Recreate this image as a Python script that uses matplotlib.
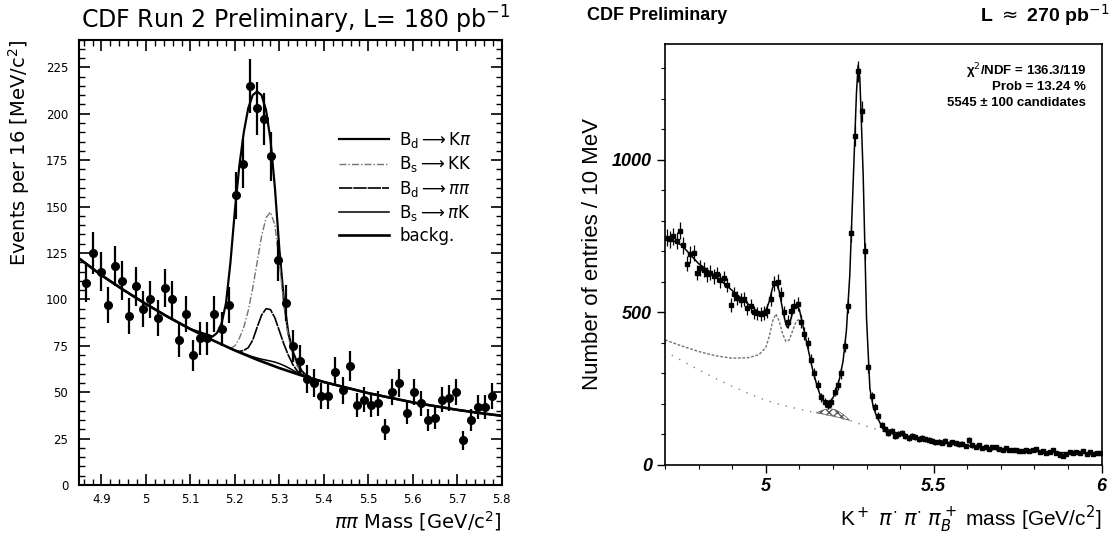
import numpy as np
import matplotlib
matplotlib.use("Agg")
import matplotlib.pyplot as plt
from matplotlib.ticker import MultipleLocator

# ---- left panel: pi pi mass, 16 MeV bins ----
pp_x0 = 4.866
pp_bin = 0.016
pp_counts = [109, 125, 115, 97, 118, 110, 91, 107, 95, 100, 90, 106, 100, 78, 92, 70,
             79, 79, 92, 84, 97,
             156, 173, 215, 203, 197, 177, 121,
             98, 75, 67, 57, 55, 48, 48, 61, 51, 64, 43, 46, 43, 44, 30, 50, 55, 39,
             50, 44, 35, 36, 46, 47, 50, 24, 35, 42, 42, 48]

# fit curves
tot_x = [4.85, 4.90, 4.95, 5.00, 5.05, 5.10, 5.15, 5.16, 5.17, 5.18, 5.19, 5.20, 5.21,
         5.22, 5.23, 5.24, 5.25, 5.26, 5.27, 5.28, 5.29, 5.30, 5.31, 5.32, 5.33, 5.34,
         5.35, 5.36, 5.37, 5.40, 5.45, 5.50, 5.55, 5.60, 5.65, 5.70, 5.75, 5.80]
tot_y = [122, 113, 105, 97.5, 90.5, 84, 80, 82, 87, 98, 120, 148, 172,
         190, 203, 210, 212, 210, 202, 186, 160, 127, 100, 82, 72, 66,
         61.5, 59, 57.5, 55.5, 52.5, 49.5, 47, 44.5, 42.5, 40.5, 38.8, 37.3]
bg_x = [4.85, 4.90, 4.95, 5.00, 5.05, 5.10, 5.15, 5.20, 5.25, 5.30, 5.35, 5.40,
        5.45, 5.50, 5.55, 5.60, 5.65, 5.70, 5.75, 5.80]
bg_y = [122, 113, 105, 97.5, 90.5, 84, 78, 72.5, 67.5, 63, 59, 55.5,
        52.5, 49.5, 47, 44.5, 42.5, 40.5, 38.8, 37.3]
comp_x = [5.19, 5.20, 5.21, 5.22, 5.23, 5.24, 5.25, 5.26, 5.27, 5.28, 5.29, 5.30,
          5.31, 5.32, 5.33, 5.34, 5.35, 5.36]
kk_y = [73.5, 75, 79, 85, 94, 106, 120, 134, 144, 147, 140, 120, 97, 80, 70, 64, 60.5, 58.5]
pipi_y = [73.5, 72.5, 72, 72.5, 74, 78, 85, 91.5, 95, 94.5, 90, 83, 76, 70, 65, 61.5, 59.5, 58.5]
pik_y = [73.5, 72.6, 71.7, 70.8, 69.9, 69.1, 68.4, 67.8, 67.3, 66.8, 66.2, 65.4,
         64.4, 63.2, 61.9, 60.5, 59.3, 58.3]

# ---- right panel: K pi pi pi mass, 10 MeV bins ----
kp_x0 = 4.705
kp_bin = 0.01
kp_counts = [745, 740, 750, 735, 768, 720, 660, 690, 695, 630,
             645, 640, 625, 630, 618, 625, 605, 612, 590, 525,
             560, 548, 540, 545, 515, 520, 500, 497, 495, 498,
             505, 545, 595, 600, 560, 500, 470, 505, 520, 528,
             470, 430, 400, 345, 300, 262, 222, 205, 198, 205,
             240, 262, 300, 390, 520, 760, 1080, 1290, 1160, 700,
             320, 225, 190, 160, 130, 118, 105, 112, 96, 100,
             104, 95, 88, 96, 92, 86, 88, 84, 82, 80,
             74, 76, 73, 78, 70, 74, 71, 68, 69, 62,
             82, 64, 60, 65, 55, 60, 52, 58, 58, 52,
             50, 55, 49, 50, 48, 47, 47, 49, 45, 50,
             51, 44, 46, 40, 44, 48, 38, 34, 29, 36,
             42, 38, 44, 40, 46, 36, 42, 37, 40, 38]
kfit_x = [4.70, 4.75, 4.80, 4.85, 4.90, 4.95, 4.98, 5.00, 5.01, 5.02, 5.03, 5.04, 5.05,
          5.06, 5.065, 5.07, 5.08, 5.09, 5.10, 5.11, 5.12, 5.13, 5.14, 5.15, 5.16, 5.17,
          5.18, 5.19, 5.20, 5.21, 5.22, 5.23, 5.24, 5.25, 5.26, 5.27, 5.275, 5.28, 5.29,
          5.30, 5.31, 5.32, 5.33, 5.34, 5.35, 5.40, 5.45, 5.50, 5.55, 5.60, 5.65, 5.70,
          5.75, 5.80, 5.85, 5.90, 5.95, 6.00]
kfit_y = [750, 720, 660, 620, 572, 525, 500, 505, 535, 580, 600, 570, 510,
          460, 450, 460, 500, 525, 510, 460, 410, 360, 310, 270, 235, 212,
          202, 205, 220, 245, 285, 340, 440, 620, 920, 1220, 1310, 1270, 950,
          480, 250, 190, 160, 138, 122, 100, 88, 78, 70, 63, 57, 52,
          48, 45, 42, 40, 39, 38]
refl_x = [4.70, 4.75, 4.80, 4.85, 4.90, 4.95, 4.98, 5.00, 5.01, 5.02, 5.03, 5.04,
          5.05, 5.06, 5.07, 5.08, 5.09, 5.10, 5.11]
refl_y = [410, 390, 372, 358, 350, 352, 362, 385, 420, 470, 495, 472,
          430, 405, 410, 440, 470, 478, 455]
comb_x = [4.72, 4.75, 4.80, 4.85, 4.90, 4.95, 5.00, 5.05, 5.10, 5.15, 5.20, 5.25, 5.30, 5.35]
comb_y = [360, 342, 312, 284, 258, 234, 212, 196, 183, 171, 160, 146, 127, 110]
hatch_x = [5.15, 5.17, 5.19, 5.21, 5.23, 5.25]
hatch_lo = [171, 167, 162, 158, 152, 146]
hatch_hi = [171, 180, 185, 180, 166, 146]

fig = plt.figure(figsize=(11.13, 5.36), dpi=100)

# ================= left =================
ax1 = fig.add_axes([0.0712, 0.0951, 0.3796, 0.8312])
pp_c = np.array(pp_counts, dtype=float)
pp_x = pp_x0 + pp_bin * np.arange(len(pp_c))
ax1.errorbar(pp_x, pp_c, yerr=np.sqrt(pp_c), fmt='o', color='black', ms=5.5,
             elinewidth=1.6, capsize=0, zorder=5)
l_tot, = ax1.plot(tot_x, tot_y, color='black', lw=1.6,
                  label=r'B$_\mathrm{d}$$\longrightarrow$K$\pi$')
l_kk, = ax1.plot(comp_x, kk_y, color='0.45', lw=1.0, ls=(0, (5, 1.5, 1, 1.5)),
                 label=r'B$_\mathrm{s}$$\longrightarrow$KK')
l_pp, = ax1.plot(comp_x, pipi_y, color='black', lw=1.2, ls=(0, (8, 0.6)),
                 label=r'B$_\mathrm{d}$$\longrightarrow$$\pi\pi$')
l_pk, = ax1.plot(comp_x, pik_y, color='black', lw=1.1,
                 label=r'B$_\mathrm{s}$$\longrightarrow$$\pi$K')
l_bg, = ax1.plot(bg_x, bg_y, color='black', lw=1.9, label='backg.')

ax1.set_xlim(4.85, 5.8)
ax1.set_ylim(0, 240)
ax1.xaxis.set_minor_locator(MultipleLocator(0.02))
ax1.yaxis.set_major_locator(MultipleLocator(25))
ax1.yaxis.set_minor_locator(MultipleLocator(5))
ax1.set_xticks(np.arange(4.9, 5.81, 0.1))
ax1.set_xticklabels(['4.9', '5', '5.1', '5.2', '5.3', '5.4', '5.5', '5.6', '5.7', '5.8'])
ax1.tick_params(which='both', direction='in', top=True, right=True, labelsize=8.5)
ax1.tick_params(which='major', length=8, width=1.2)
ax1.tick_params(which='minor', length=4, width=1)
ax1.tick_params(axis='x', pad=6)
ax1.tick_params(axis='y', pad=8)
for s in ax1.spines.values():
    s.set_linewidth(1.5)
ax1.set_xlabel(r'$\pi\pi$ Mass [GeV/c$^2$]', fontsize=14, loc='right', labelpad=2)
ax1.set_ylabel(r'Events per 16 [MeV/c$^2$]', fontsize=14, loc='top', labelpad=10)
ax1.legend(handles=[l_tot, l_kk, l_pp, l_pk, l_bg], loc='upper left',
           bbox_to_anchor=(0.58, 0.83), frameon=False, fontsize=12,
           handlelength=3.0, labelspacing=0.25, handletextpad=0.6)
fig.text(0.266, 0.962, r'CDF Run 2 Preliminary, L= 180 pb$^{-1}$', ha='center',
         va='center', fontsize=17)

# ================= right =================
ax2 = fig.add_axes([0.5975, 0.1325, 0.3923, 0.7854])
kp_c = np.array(kp_counts, dtype=float)
kp_x = kp_x0 + kp_bin * np.arange(len(kp_c))
ax2.errorbar(kp_x, kp_c, yerr=np.sqrt(kp_c), fmt='s', color='black', ms=2.5,
             elinewidth=0.9, capsize=0, zorder=5)
ax2.plot(kfit_x, kfit_y, color='black', lw=1.1)
ax2.plot(refl_x, refl_y, color='0.45', lw=1.0, ls=(0, (2, 1.2)))
ax2.plot(comb_x, comb_y, color='0.5', lw=1.0, ls=(0, (1, 5)))
ax2.fill_between(hatch_x, hatch_lo, hatch_hi, facecolor='none', edgecolor='0.35',
                 hatch='xxxx', lw=0.5)
ax2.set_xlim(4.7, 6.0)
ax2.set_ylim(0, 1380)
ax2.set_xticks([5, 5.5, 6])
ax2.set_xticklabels(['5', '5.5', '6'])
ax2.xaxis.set_minor_locator(MultipleLocator(0.1))
ax2.set_yticks([0, 500, 1000])
ax2.yaxis.set_minor_locator(MultipleLocator(100))
ax2.tick_params(which='both', direction='out', top=False, right=False)
ax2.tick_params(which='major', length=6, width=1)
ax2.tick_params(which='minor', length=3, width=0.8)
for lab in ax2.get_xticklabels() + ax2.get_yticklabels():
    lab.set_fontfamily('Liberation Sans')
    lab.set_fontstyle('italic')
    lab.set_fontweight('bold')
    lab.set_fontsize(13)
for s in ax2.spines.values():
    s.set_linewidth(1.2)
ax2.set_xlabel(r'K$^+$ $\pi^{\cdot}$ $\pi^{\cdot}$ $\pi_B^+$ mass [GeV/c$^2$]',
               fontsize=15, loc='right', family='Liberation Sans', labelpad=6)
ax2.set_ylabel('Number of entries / 10 MeV', fontsize=16, family='Liberation Sans',
               labelpad=6)
stats = ['\u03c7$^2$/NDF = 136.3/119', 'Prob = 13.24 %', '5545 \u00b1 100 candidates']
for i, s in enumerate(stats):
    ax2.text(0.965, 0.935 - i * 0.038, s, transform=ax2.transAxes, ha='right',
             va='center', fontsize=9.5, fontweight='bold', family='Liberation Sans')
fig.text(0.527, 0.972, 'CDF Preliminary', ha='left', va='center', fontsize=13,
         fontweight='bold', family='Liberation Sans')
fig.text(0.997, 0.972, r'L $\approx$ 270 pb$^{-1}$', ha='right', va='center', fontsize=14,
         fontweight='bold', family='Liberation Sans')

fig.savefig('out.png', dpi=100)
